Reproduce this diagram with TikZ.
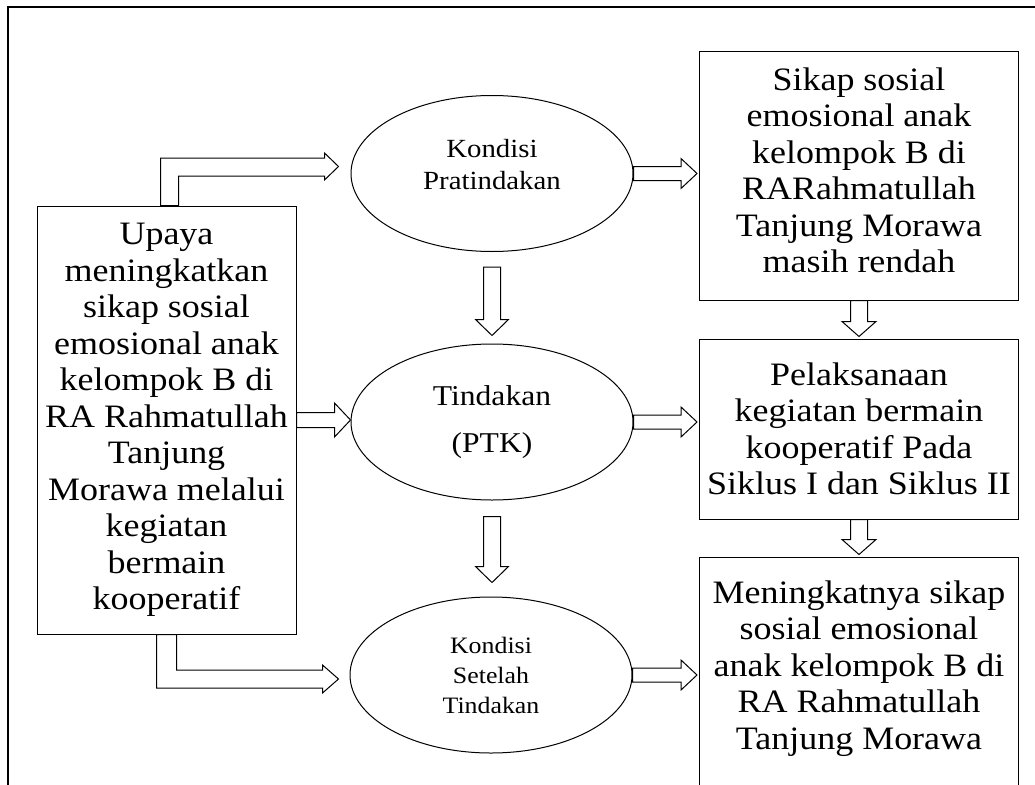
\documentclass[tikz,border=0pt]{standalone}
\usepackage{fontspec}
\setmainfont{Liberation Serif}
\newfontfamily\diagfont[FakeStretch=1.1]{Liberation Serif}
\usepackage{tikz}
\usetikzlibrary{calc, shapes.geometric}

% hollow block arrow: from, to, shaft half width, head half width, head length
\newcommand{\hollowarrow}[5]{%
  \draw[arrowline] let \p1=(#1), \p2=(#2),
      \n1={veclen(\x2-\x1,\y2-\y1)}, \n2={atan2(\y2-\y1,\x2-\x1)} in
    [shift={(\p1)}, rotate=\n2]
    (0pt,{#3pt}) -- ({\n1-#5pt},{#3pt}) -- ({\n1-#5pt},{#4pt}) -- (\n1,0pt)
    -- ({\n1-#5pt},{-#4pt}) -- ({\n1-#5pt},{-#3pt}) -- (0pt,{-#3pt}) -- cycle;
}

\begin{document}
\begin{tikzpicture}[x=1pt, y=-1pt,
    box/.style={draw, line width=1pt, align=center, inner sep=0pt,
      font=\diagfont\fontsize{32.7pt}{36.5pt}\selectfont},
    cond/.style={draw, ellipse, line width=1pt, align=center, inner sep=0pt,
      minimum width=282pt, minimum height=156pt},
    arrowline/.style={draw, fill=white, line width=1pt, line join=miter}]
    \useasboundingbox (0,0) rectangle (1035,784);
    \draw[line width=2pt] (8,7) rectangle (1045,800);

    % left box
    \node[box, minimum width=259pt, minimum height=428pt] (upaya) at (166.5,420)
        {Upaya\\meningkatkan\\sikap sosial\\emosional anak\\kelompok B di\\RA Rahmatullah\\Tanjung\\Morawa melalui\\kegiatan\\bermain\\kooperatif};

    % middle column
    \node[cond, text depth=19pt, font=\diagfont\fontsize{26.2pt}{32pt}\selectfont] (pra) at (492,173.5)
        {Kondisi\\Pratindakan};
    \node[cond, font=\diagfont\fontsize{28.7pt}{47pt}\selectfont] (tind) at (492,422)
        {Tindakan\\(PTK)};
    \node[cond, font=\diagfont\fontsize{23.5pt}{30pt}\selectfont] (setelah) at (491,675)
        {Kondisi\\Setelah\\Tindakan};

    % right column
    \node[box, minimum width=319pt, minimum height=248pt, text depth=12pt] (sikap) at (859,176)
        {Sikap sosial\\emosional anak\\kelompok B di\\RARahmatullah\\Tanjung Morawa\\masih rendah};
    \node[box, minimum width=319pt, minimum height=180pt] (laksana) at (859,429)
        {Pelaksanaan\\kegiatan bermain\\kooperatif Pada\\Siklus I dan Siklus II};
    \node[box, minimum width=319pt, minimum height=254pt, text depth=38pt] (hasil) at (859,684)
        {Meningkatnya sikap\\sosial emosional\\anak kelompok B di\\RA Rahmatullah\\Tanjung Morawa};

    % bent arrows out of the left box
    \draw[arrowline] ($(upaya.north west)+(124,0)$) |- ($(pra.west)+(-26,-15.5)$)
        -- ++(0,-5) -- ($(pra.west)+(-12,-7)$) -- ++(-14,13.5) -- ++(0,-4)
        -| ($(upaya.north west)+(142,0)$) -- cycle;
    \draw[arrowline] ($(upaya.south west)+(120,0)$) |- ($(setelah.west)+(-27,13)$)
        -- ++(0,5) -- ($(setelah.west)+(-11,4)$) -- ++(-16,-14) -- ++(0,5)
        -| ($(upaya.south west)+(140,0)$) -- cycle;

    % straight arrows
    \hollowarrow{upaya.east}{upaya.east -| tind.west}{7.5}{17}{16}
    \hollowarrow{pra.east}{$(pra.east -| sikap.west)+(-2,0)$}{7}{15}{16}
    \hollowarrow{tind.east}{$(tind.east -| laksana.west)+(-2,0)$}{7}{15}{16}
    \hollowarrow{setelah.east}{$(setelah.east -| hasil.west)+(-2,0)$}{7}{15}{16}
    \hollowarrow{$(pra.south)+(0,15)$}{$(tind.north)+(0,-8)$}{8.5}{16.5}{16}
    \hollowarrow{$(tind.south)+(0,16)$}{$(tind.south |- setelah.north)+(0,-14)$}{8.5}{16.5}{16}
    \hollowarrow{sikap.south}{$(laksana.north)+(0,-2)$}{8.5}{17}{15}
    \hollowarrow{laksana.south}{$(hasil.north)+(0,-2)$}{8.5}{17}{15}
\end{tikzpicture}
\end{document}
